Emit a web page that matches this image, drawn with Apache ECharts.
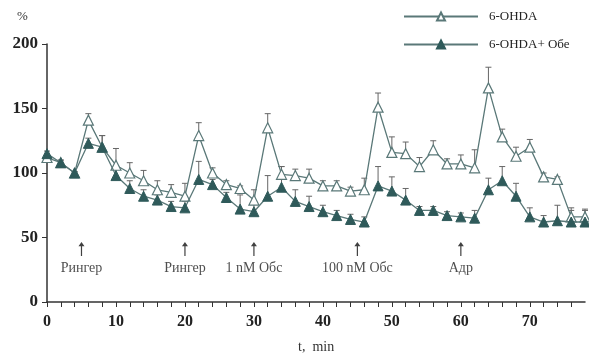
<!DOCTYPE html>
<html>
<head>
<meta charset="utf-8">
<script src="https://cdn.jsdelivr.net/npm/echarts@6/dist/echarts.min.js"></script>
<style>
  html, body { margin: 0; padding: 0; background: #fff; }
  #chart { width: 589px; height: 355px; }
</style>
</head>
<body>
<div id="chart"></div>
<script>
// time points, min
const times = [0, 2, 4, 6, 8, 10, 12, 14, 16, 18, 20, 22, 24, 26, 28, 30, 32, 34, 36, 38,
  40, 42, 44, 46, 48, 50, 52, 54, 56, 58, 60, 62, 64, 66, 68, 70, 72, 74, 76, 78];

// 6-OHDA (open triangles)
const ohda = [112, 108, 100, 141, 120, 106, 100, 94, 87, 85, 82, 129, 100, 91, 88, 79, 135, 99, 98, 96,
  90, 90, 86, 87, 151, 116, 115, 105, 118, 107, 107, 104, 166, 128, 113, 120, 97, 95, 66, 66];
const ohdaErr = [2, 2, 1, 5, 9, 13, 8, 8, 7, 6, 10, 10, 4, 3, 2, 8, 11, 6, 5, 7,
  4, 4, 3, 9, 11, 12, 9, 7, 7, 4, 7, 14, 16, 6, 7, 6, 3, 2, 7, 6];

// 6-OHDA + Обе (filled triangles)
const ohdaObe = [115, 108, 100, 123, 120, 98, 88, 82, 79, 74, 73, 95, 91, 81, 72, 70, 82, 89, 78, 74,
  70, 67, 64, 62, 90, 86, 79, 71, 71, 67, 66, 65, 87, 94, 82, 66, 62, 63, 62, 62];
const ohdaObeErr = [2, 2, 1, 4, 9, 5, 6, 5, 4, 4, 5, 14, 4, 4, 11, 6, 16, 16, 9, 8,
  5, 4, 4, 4, 15, 11, 9, 3, 3, 3, 3, 6, 9, 11, 10, 7, 5, 12, 9, 9];

// treatment marks
const markTimes = [5, 20, 30, 45, 60];
const markLabels = ['Рингер', 'Рингер', '1 nM Обс', '100 nM Обс', 'Адр'];

const serif = '"Liberation Serif", "DejaVu Serif", serif';
const lineColor = '#5a7878';
const darkFill = '#2f5a5a';

const zip = (a, b) => a.map((v, i) => [times[i], v, b ? b[i] : 0]);

const errBar = (params, api) => {
  const x = api.value(0), y = api.value(1), e = api.value(2);
  const p0 = api.coord([x, y]);
  const p1 = api.coord([x, y + e]);
  return {
    type: 'group',
    children: [
      { type: 'line', shape: { x1: p0[0], y1: p0[1], x2: p1[0], y2: p1[1] }, style: { stroke: '#666', lineWidth: 1 } },
      { type: 'line', shape: { x1: p1[0] - 3, y1: p1[1], x2: p1[0] + 3, y2: p1[1] }, style: { stroke: '#666', lineWidth: 1 } }
    ]
  };
};

const chart = echarts.init(document.getElementById('chart'), null, { renderer: 'canvas' });
chart.setOption({
  animation: false,
  grid: { left: 47, right: 4, top: 44, bottom: 53 },
  legend: {
    orient: 'vertical',
    left: 398,
    top: 5,
    itemWidth: 74,
    itemHeight: 10,
    itemGap: 15,
    textStyle: { fontFamily: serif, fontSize: 13, color: '#222', padding: [0, 0, 0, 6] },
    data: ['6-OHDA', '6-OHDA+ Обе']
  },
  xAxis: {
    type: 'value',
    min: 0,
    max: 78,
    interval: 2,
    splitLine: { show: false },
    axisLine: { lineStyle: { color: '#333', width: 1.5 } },
    axisTick: { inside: false, length: 5, lineStyle: { color: '#333' } },
    axisLabel: {
      margin: 12,
      fontFamily: serif,
      fontWeight: 'bold',
      fontSize: 16,
      color: '#222',
      showMaxLabel: false,
      formatter: v => (v % 10 === 0 ? String(v) : '')
    }
  },
  yAxis: {
    type: 'value',
    min: 0,
    max: 200,
    interval: 50,
    splitLine: { show: false },
    axisLine: { show: true, lineStyle: { color: '#333', width: 1.5 } },
    axisTick: { show: true, length: 5, lineStyle: { color: '#333' } },
    axisLabel: { margin: 9, fontFamily: serif, fontWeight: 'bold', fontSize: 17, color: '#222' }
  },
  graphic: [
    { type: 'text', left: 17, top: 10, style: { text: '%', font: '13px ' + serif, fill: '#333' } },
    { type: 'text', left: 298, top: 340, style: { text: 't,  min', font: '14px ' + serif, fill: '#333' } }
  ],
  series: [
    {
      name: 'errOpen',
      type: 'custom',
      renderItem: errBar,
      data: zip(ohda, ohdaErr),
      z: 1,
      silent: true
    },
    {
      name: 'errFilled',
      type: 'custom',
      renderItem: errBar,
      data: zip(ohdaObe, ohdaObeErr),
      z: 1,
      silent: true
    },
    {
      name: '6-OHDA',
      type: 'line',
      data: zip(ohda),
      symbol: 'triangle',
      symbolSize: 10,
      lineStyle: { color: lineColor, width: 1.3 },
      itemStyle: { color: '#fff', borderColor: lineColor, borderWidth: 1.2 },
      z: 3
    },
    {
      name: '6-OHDA+ Обе',
      type: 'line',
      data: zip(ohdaObe),
      symbol: 'triangle',
      symbolSize: 10,
      lineStyle: { color: lineColor, width: 1.3 },
      itemStyle: { color: darkFill, borderColor: darkFill, borderWidth: 1 },
      z: 4
    },
    {
      name: 'marks',
      type: 'scatter',
      data: markTimes.map((t, i) => ({ value: [t, 41], label: { formatter: markLabels[i] } })),
      symbol: 'path://M5,0 L10,9 L6,9 L6,30 L4,30 L4,9 L0,9 Z',
      symbolSize: [6, 14],
      itemStyle: { color: '#111' },
      label: {
        show: true,
        position: 'bottom',
        distance: 5,
        fontFamily: serif,
        fontSize: 14,
        color: '#222'
      },
      silent: true,
      z: 2
    }
  ]
});
</script>
</body>
</html>
